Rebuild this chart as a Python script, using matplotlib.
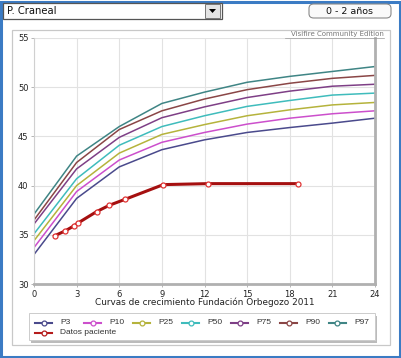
import matplotlib.pyplot as plt
import numpy as np
from matplotlib.patches import Rectangle, FancyBboxPatch, Polygon
from matplotlib.lines import Line2D

# edades (meses) y percentiles perimetro craneal
meses = [0, 3, 6, 9, 12, 15, 18, 21, 24]
p3 = [33.0, 38.7, 41.9, 43.65, 44.65, 45.4, 45.9, 46.35, 46.85]
p10 = [33.7, 39.4, 42.6, 44.4, 45.4, 46.25, 46.85, 47.3, 47.6]
p25 = [34.4, 40.0, 43.3, 45.2, 46.2, 47.1, 47.7, 48.2, 48.45]
p50 = [35.1, 40.7, 44.1, 46.0, 47.1, 48.05, 48.65, 49.2, 49.4]
p75 = [36.1, 41.7, 44.9, 46.9, 48.0, 48.95, 49.6, 50.1, 50.3]
p90 = [36.5, 42.35, 45.7, 47.6, 48.8, 49.75, 50.4, 50.9, 51.2]
p97 = [37.1, 43.0, 46.0, 48.35, 49.5, 50.5, 51.1, 51.6, 52.1]

# datos del paciente
pac_x = [1.45, 2.2, 2.8, 3.1, 4.4, 5.3, 6.4, 9.1, 12.25, 18.55]
pac_y = [34.9, 35.4, 35.9, 36.2, 37.35, 38.0, 38.6, 40.1, 40.2, 40.2]

nombres = ['P3', 'P10', 'P25', 'P50', 'P75', 'P90', 'P97']
colores = ['#4a4a8c', '#cc4fcc', '#b5b33c', '#3fbcbc', '#7e3f86', '#8a4646', '#3f8585']
curvas = [p3, p10, p25, p50, p75, p90, p97]

W, H = 401, 358
fig = plt.figure(figsize=(W / 100, H / 100), dpi=100)
fig.patch.set_facecolor('white')

def px(x, y):
	return x / W, 1 - y / H

# marco azul exterior
fig.patches.append(Rectangle((0.002, 0.004), 0.995, 0.99, transform=fig.transFigure,
	fill=False, edgecolor='#3b7bc4', linewidth=2.2, zorder=-2))

# combo superior
x0, y0 = px(3, 19)
fig.patches.append(Rectangle((x0, y0), 219 / W, 16 / H, transform=fig.transFigure,
	facecolor='white', edgecolor='#555555', linewidth=0.9))
x0, y0 = px(205, 18)
fig.patches.append(Rectangle((x0, y0), 15 / W, 14 / H, transform=fig.transFigure,
	facecolor='#e4e4e4', edgecolor='#777777', linewidth=0.7))
fig.patches.append(Polygon([px(209, 9), px(216, 9), px(212.5, 13)], closed=True,
	transform=fig.transFigure, facecolor='black', edgecolor='none'))
fig.text(*px(7, 11), 'P. Craneal', fontsize=7.2, va='center', ha='left', color='#111111')

# boton edad
x0, y0 = px(309, 18)
fig.patches.append(FancyBboxPatch((x0, y0), 82 / W, 14 / H, transform=fig.transFigure,
	boxstyle='round,pad=0,rounding_size=0.012', facecolor='#fafafa',
	edgecolor='#8a8a8a', linewidth=0.8))
fig.text(*px(350, 11), '0 - 2 años', fontsize=6.8, va='center', ha='center', color='#111111')

# panel del grafico (detras de los ejes)
x0, y0 = px(12, 345)
fig.patches.append(Rectangle((x0, y0), 378 / W, 315 / H, transform=fig.transFigure,
	facecolor='white', edgecolor='#c8c8c8', linewidth=0.9, zorder=-1))

ax = fig.add_axes([34 / W, 1 - 284 / H, 341 / W, 246 / H])
ax.set_facecolor('white')
for c, n, col in zip(curvas, nombres, colores):
	ax.plot(meses, c, color=col, linewidth=1.1, label=n)
ax.plot(pac_x, pac_y, color='#a51010', linewidth=2.2, marker='o', markersize=3.6,
	markerfacecolor='white', markeredgecolor='#e03535', markeredgewidth=0.9, zorder=5)

ax.set_xlim(0, 24)
ax.set_ylim(30, 55)
ax.set_xticks(np.arange(0, 25, 3))
ax.set_yticks(np.arange(30, 56, 5))
ax.grid(True, color='#e2e2e2', linewidth=0.8)
ax.set_axisbelow(True)
ax.tick_params(labelsize=6, colors='#222222', length=2, width=0.6, pad=2)
ax.tick_params(axis='x', color='#aaaaaa')
ax.tick_params(axis='y', color='#aaaaaa')
ax.spines['top'].set_visible(False)
ax.spines['left'].set_color('#d0d0d0')
ax.spines['left'].set_linewidth(0.8)
ax.spines['right'].set_color('#b0b0b0')
ax.spines['right'].set_linewidth(2.0)
ax.spines['bottom'].set_color('#b0b0b0')
ax.spines['bottom'].set_linewidth(2.0)

fig.text(*px(384, 34), 'Visifire Community Edition', fontsize=5, ha='right', va='center',
	color='#777777')
fig.lines.append(Line2D([285 / W, 384 / W], [1 - 38 / H] * 2, transform=fig.transFigure,
	color='#999999', linewidth=0.5))

fig.text(*px(205, 302), 'Curvas de crecimiento Fundación Orbegozo 2011', fontsize=6.4,
	ha='center', va='center', color='#222222')

# leyenda
x0, y0 = px(29, 340)
fig.patches.append(Rectangle((x0 + 0.004, y0 - 0.007), 346 / W, 27 / H, transform=fig.transFigure,
	facecolor='#bbbbbb', edgecolor='none'))
fig.patches.append(Rectangle((x0, y0), 346 / W, 27 / H, transform=fig.transFigure,
	facecolor='white', edgecolor='#cccccc', linewidth=0.7))

def item(xp, yp, col, txt):
	xa, ya = px(xp, yp)
	xb, _ = px(xp + 17, yp)
	fig.lines.append(Line2D([xa, xb], [ya, ya], transform=fig.transFigure, color=col,
		linewidth=1.5))
	fig.lines.append(Line2D([(xa + xb) / 2], [ya], transform=fig.transFigure, color=col,
		marker='o', markersize=3.5, markerfacecolor='white', markeredgewidth=0.9))
	fig.text(*px(xp + 25, yp), txt, fontsize=6, family='Liberation Sans', va='center',
		ha='left', color='#333333')

for i, (n, col) in enumerate(zip(nombres, colores)):
	item(35 + 49 * i, 323, col, n)
item(35, 333, '#b51c1c', 'Datos paciente')

fig.savefig('out.png', dpi=100)
